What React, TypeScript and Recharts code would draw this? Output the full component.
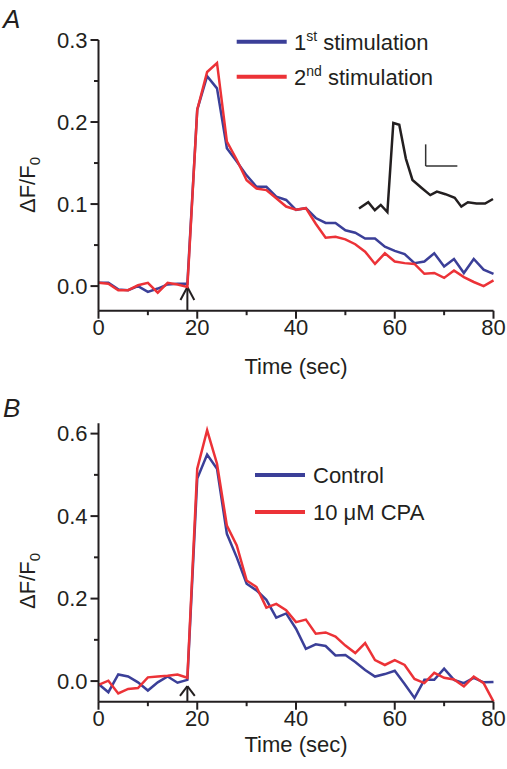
import React from 'react';
import { LineChart, Line, XAxis, YAxis, ReferenceLine, Legend } from 'recharts';

// ---------- data ----------
const times = [0, 2, 4, 6, 8, 10, 12, 14, 16, 18, 20, 22, 24, 26, 28, 30, 32, 34, 36, 38, 40,
  42, 44, 46, 48, 50, 52, 54, 56, 58, 60, 62, 64, 66, 68, 70, 72, 74, 76, 78, 80];

const stim1 = [0.004, 0.004, -0.004, -0.005, 0.0, -0.007, -0.003, 0.002, 0.003, 0.003,
  0.215, 0.256, 0.241, 0.168, 0.152, 0.135, 0.121, 0.121, 0.109, 0.105, 0.093,
  0.095, 0.083, 0.077, 0.077, 0.068, 0.065, 0.058, 0.058, 0.048, 0.043,
  0.039, 0.028, 0.03, 0.04, 0.024, 0.033, 0.016, 0.033, 0.02, 0.015];

const stim2 = [0.004, 0.003, -0.005, -0.005, 0.001, 0.004, -0.008, 0.004, 0.002, -0.001,
  0.215, 0.261, 0.272, 0.176, 0.154, 0.129, 0.119, 0.117, 0.107, 0.097, 0.093,
  0.095, 0.076, 0.059, 0.06, 0.057, 0.051, 0.042, 0.027, 0.04, 0.03,
  0.028, 0.027, 0.015, 0.016, 0.01, 0.019, 0.011, 0.005, 0.0, 0.007];

const control = [-0.007, -0.027, 0.016, 0.011, -0.003, -0.023, -0.003, 0.011, -0.004, 0.003,
  0.491, 0.549, 0.515, 0.357, 0.3, 0.236, 0.22, 0.197, 0.154, 0.164, 0.127,
  0.078, 0.089, 0.085, 0.062, 0.063, 0.046, 0.027, 0.011, 0.017, 0.025,
  -0.007, -0.041, 0.003, 0.003, 0.03, 0.003, -0.005, 0.008, -0.003, -0.002];

const cpa = [-0.009, 0.001, -0.03, -0.019, -0.017, 0.009, 0.011, 0.013, 0.016, 0.008,
  0.515, 0.608, 0.527, 0.377, 0.329, 0.244, 0.228, 0.178, 0.187, 0.172, 0.143,
  0.149, 0.115, 0.118, 0.108, 0.086, 0.068, 0.092, 0.051, 0.039, 0.051,
  0.039, 0.005, -0.005, 0.02, 0.008, 0.004, -0.013, 0.011, -0.005, -0.05];

// inset trace (arbitrary units)
const insetT = [0, 1.4, 2.4, 3.3, 4.3, 5.2, 6.1, 7.1, 8.1, 9.5, 10.8, 11.8, 13.1, 14.5, 15.5, 16.5, 17.8, 19.1, 20.3];
const insetV = [0.04, 0.11, 0.02, 0.08, 0.0, 1.0, 0.98, 0.6, 0.36, 0.27, 0.19, 0.23, 0.2, 0.16, 0.06, 0.11, 0.095, 0.095, 0.146];
const insetBarX = [10.1, 14.9];
const insetBarY = [0.517, 0.76];

const xTicks = [0, 10, 20, 30, 40, 50, 60, 70, 80];
const xLabels = [0, 20, 40, 60, 80];
const yTicksA = [0, 0.05, 0.1, 0.15, 0.2, 0.25, 0.3];
const yLabelsA = [0, 0.1, 0.2, 0.3];
const yTicksB = [0, 0.1, 0.2, 0.3, 0.4, 0.5, 0.6];
const yLabelsB = [0, 0.2, 0.4, 0.6];
const stimTime = 18;

const legendA = ['1st stimulation', '2nd stimulation'];
const legendB = ['Control', '10 \u03bcM CPA'];

// ---------- tables ----------
const rowsA = times.map((t, i) => ({ t, s1: stim1[i], s2: stim2[i] }));
const rowsB = times.map((t, i) => ({ t, c: control[i], p: cpa[i] }));
const rowsInset = insetT.map((x, i) => ({ x, v: insetV[i] }));

// ---------- style ----------
const FONT = '"Liberation Sans", Arial, Helvetica, sans-serif';
const INK = '#231f20';
const BLUE = '#3b3f98';
const RED = '#ec3237';
const FS = 22;
const AXIS_X = 98.5;

const isIn = (arr: number[], v: number) => arr.some((a) => Math.abs(a - v) < 1e-9);

const makeYTick = (labels: number[]) => (p: any) => {
  const v = p.payload.value;
  const major = isIn(labels, v);
  const len = major ? 8 : 4.5;
  return (
    <g>
      <line x1={AXIS_X - len} x2={AXIS_X} y1={p.y} y2={p.y} stroke={INK} strokeWidth={2} />
      {major && (
        <text x={AXIS_X - 11} y={p.y} dy="0.355em" textAnchor="end" fontSize={FS} fill={INK} fontFamily={FONT}>
          {v.toFixed(1)}
        </text>
      )}
    </g>
  );
};

const makeXTick = (axisY: number) => (p: any) => {
  const v = p.payload.value;
  const major = isIn(xLabels, v);
  const len = major ? 8 : 4.5;
  return (
    <g>
      <line x1={p.x} x2={p.x} y1={axisY} y2={axisY + len} stroke={INK} strokeWidth={2} />
      {major && (
        <text x={p.x} y={axisY + 9} dy="0.71em" textAnchor="middle" fontSize={FS} fill={INK} fontFamily={FONT}>
          {v}
        </text>
      )}
    </g>
  );
};

const YLab = ({ x, y }: { x: number; y: number }) => (
  <text transform={`translate(${x},${y}) rotate(-90)`} textAnchor="middle" fontSize={FS} fill={INK} fontFamily={FONT}>
    {'\u0394F/F'}
    <tspan fontSize={15} dy={5}>0</tspan>
  </text>
);

const XLab = ({ y }: { y: number }) => (
  <text x={296} y={y} textAnchor="middle" fontSize={FS} fill={INK} fontFamily={FONT}>
    Time (sec)
  </text>
);

const LegendA = () => (
  <svg width={270} height={70} style={{ display: 'block', overflow: 'visible' }}>
    <line x1={6.7} x2={56.7} y1={16.7} y2={16.7} stroke={BLUE} strokeWidth={4} />
    <text x={64} y={25} fontSize={FS} fill={INK} fontFamily={FONT}>
      {legendA[0].slice(0, 1)}
      <tspan fontSize={14} dy={-9}>{legendA[0].slice(1, 3)}</tspan>
      <tspan dy={9}>{legendA[0].slice(3)}</tspan>
    </text>
    <line x1={6.7} x2={56.7} y1={51.7} y2={51.7} stroke={RED} strokeWidth={4} />
    <text x={64} y={60} fontSize={FS} fill={INK} fontFamily={FONT}>
      {legendA[1].slice(0, 1)}
      <tspan fontSize={14} dy={-9}>{legendA[1].slice(1, 3)}</tspan>
      <tspan dy={9}>{legendA[1].slice(3)}</tspan>
    </text>
  </svg>
);

const LegendB = () => (
  <svg width={220} height={75} style={{ display: 'block', overflow: 'visible' }}>
    <line x1={10} x2={60} y1={20} y2={20} stroke={BLUE} strokeWidth={4} />
    <text x={68} y={28} fontSize={FS} fill={INK} fontFamily={FONT}>{legendB[0]}</text>
    <line x1={10} x2={60} y1={57} y2={57} stroke={RED} strokeWidth={4} />
    <text x={68} y={65} fontSize={FS} fill={INK} fontFamily={FONT}>{legendB[1]}</text>
  </svg>
);

const arrow = (tipY: number, wingY: number, baseY: number, dx: number) => [
  <ReferenceLine key="s" segment={[{ x: stimTime, y: baseY }, { x: stimTime, y: tipY }]} stroke={INK} strokeWidth={2} />,
  <ReferenceLine key="l" segment={[{ x: stimTime - dx, y: wingY }, { x: stimTime, y: tipY }]} stroke={INK} strokeWidth={2} />,
  <ReferenceLine key="r" segment={[{ x: stimTime + dx, y: wingY }, { x: stimTime, y: tipY }]} stroke={INK} strokeWidth={2} />,
];

export default function App() {
  return (
    <div style={{ position: 'absolute', left: 0, top: 0, width: 507, height: 769, background: '#fff', overflow: 'hidden' }}>
      {/* Panel A */}
      <div style={{ position: 'absolute', left: 0, top: 0 }}>
        <LineChart width={507} height={400} data={rowsA} margin={{ top: 40, right: 13.5, bottom: 23.3, left: 0 }}>
          <XAxis
            dataKey="t"
            type="number"
            domain={[0, 80]}
            ticks={xTicks}
            interval={0}
            height={66}
            tickLine={false}
            axisLine={{ stroke: INK, strokeWidth: 2 }}
            tick={makeXTick(310.7)}
            label={{ content: () => <XLab y={374} /> }}
          />
          <YAxis
            type="number"
            domain={[-0.03, 0.3]}
            ticks={yTicksA}
            interval={0}
            width={AXIS_X}
            tickLine={false}
            axisLine={{ stroke: INK, strokeWidth: 2 }}
            tick={makeYTick(yLabelsA)}
            label={{ content: () => <YLab x={35} y={185} /> }}
          />
          {arrow(-0.001, -0.017, -0.03, 1.4)}
          <Line dataKey="s1" stroke={BLUE} strokeWidth={2.5} dot={false} isAnimationActive={false} />
          <Line dataKey="s2" stroke={RED} strokeWidth={2.5} dot={false} isAnimationActive={false} />
          <Legend
            layout="vertical"
            align="center"
            verticalAlign="middle"
            wrapperStyle={{ left: 230, top: 25, width: 270, height: 70 }}
            content={() => <LegendA />}
          />
        </LineChart>
      </div>

      {/* Inset */}
      <div style={{ position: 'absolute', left: 356, top: 120 }}>
        <LineChart width={140} height={95} data={rowsInset} margin={{ top: 3, right: 3, bottom: 3, left: 3 }}>
          <XAxis dataKey="x" type="number" domain={[0, 20.3]} hide />
          <YAxis type="number" domain={[0, 1]} hide />
          <ReferenceLine segment={[{ x: insetBarX[0], y: insetBarY[1] }, { x: insetBarX[0], y: insetBarY[0] }]} stroke="#333" strokeWidth={1.5} />
          <ReferenceLine segment={[{ x: insetBarX[0], y: insetBarY[0] }, { x: insetBarX[1], y: insetBarY[0] }]} stroke="#333" strokeWidth={1.5} />
          <Line dataKey="v" stroke={INK} strokeWidth={2.5} dot={false} isAnimationActive={false} />
        </LineChart>
      </div>

      {/* Panel B */}
      <div style={{ position: 'absolute', left: 0, top: 390 }}>
        <LineChart width={507} height={379} data={rowsB} margin={{ top: 33.3, right: 13.5, bottom: 1.3, left: 0 }}>
          <XAxis
            dataKey="t"
            type="number"
            domain={[0, 80]}
            ticks={xTicks}
            interval={0}
            height={66}
            tickLine={false}
            axisLine={{ stroke: INK, strokeWidth: 2 }}
            tick={makeXTick(311.7)}
            label={{ content: () => <XLab y={362} /> }}
          />
          <YAxis
            type="number"
            domain={[-0.05, 0.625]}
            ticks={yTicksB}
            interval={0}
            width={AXIS_X}
            tickLine={false}
            axisLine={{ stroke: INK, strokeWidth: 2 }}
            tick={makeYTick(yLabelsB)}
            label={{ content: () => <YLab x={35} y={191} /> }}
          />
          {arrow(-0.012, -0.036, -0.05, 1.5)}
          <Line dataKey="c" stroke={BLUE} strokeWidth={2.5} dot={false} isAnimationActive={false} />
          <Line dataKey="p" stroke={RED} strokeWidth={2.5} dot={false} isAnimationActive={false} />
          <Legend
            layout="vertical"
            align="center"
            verticalAlign="middle"
            wrapperStyle={{ left: 245, top: 65, width: 220, height: 75 }}
            content={() => <LegendB />}
          />
        </LineChart>
      </div>

      {/* Panel letters */}
      <svg width={507} height={769} style={{ position: 'absolute', left: 0, top: 0, pointerEvents: 'none' }}>
        <text x={3} y={28} fontSize={26} fontStyle="italic" fill={INK} fontFamily={FONT}>A</text>
        <text x={3} y={417} fontSize={26} fontStyle="italic" fill={INK} fontFamily={FONT}>B</text>
      </svg>
    </div>
  );
}
